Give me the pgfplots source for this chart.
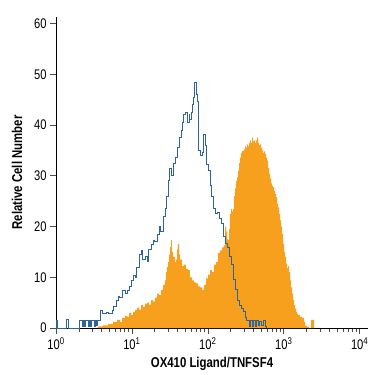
\documentclass[border=0pt]{standalone}
\usepackage{pgfplots}
\pgfplotsset{compat=1.18}
\usepackage{fontspec}
\setmainfont{Liberation Sans}[FakeStretch=0.8]
\definecolor{historange}{RGB}{247,160,30}
\definecolor{histblue}{RGB}{45,100,155}
\begin{document}
\begin{tikzpicture}
\begin{axis}[name=ax, scale only axis, width=312bp, height=311bp,
  xmin=0, xmax=4.11, ymin=0, ymax=61.3,
  axis lines=left, axis line style={-, line width=0.8bp, black},
  xtick={0,1,2,3,4},
  xticklabels={10\textsuperscript{0},10\textsuperscript{1},10\textsuperscript{2},10\textsuperscript{3},10\textsuperscript{4}},
  minor xtick={0.301,0.477,0.602,0.699,0.778,0.845,0.903,0.954,
    1.301,1.477,1.602,1.699,1.778,1.845,1.903,1.954,
    2.301,2.477,2.602,2.699,2.778,2.845,2.903,2.954,
    3.301,3.477,3.602,3.699,3.778,3.845,3.903,3.954},
  ytick={0,10,20,30,40,50,60}, yticklabels={0,10,20,30,40,50,60},
  tick align=outside, major tick length=6bp, minor tick length=4bp,
  tick style={black!70, line width=0.6bp},
  ticklabel style={font=\fontsize{14}{16}\selectfont},
  xlabel={OX410 Ligand/TNFSF4}, ylabel={Relative Cell Number},
  label style={font=\fontsize{14.3}{16}\selectfont\bfseries},
  xlabel style={yshift=-1bp}, ylabel style={yshift=5bp},
  clip=false]
\addplot[const plot, fill=historange, draw=none] coordinates {
(0.553,0) (0.553,0.3) (0.619,0.5) (0.685,0.8) (0.751,1.2) (0.804,1.6) (0.843,1.2) (0.870,2.0) (0.909,2.4) (0.936,2.2) (0.962,3.0) (0.988,2.6) (1.015,3.2) (1.041,3.5) (1.067,4.0) (1.094,3.6) (1.120,4.5) (1.146,4.2) (1.173,4.8) (1.199,5.0) (1.225,4.6) (1.252,5.5) (1.278,5.2) (1.304,6.0) (1.331,6.8) (1.357,6.5) (1.383,7.5) (1.410,8.5) (1.436,9.4) (1.449,11.0) (1.462,12.0) (1.476,13.0) (1.489,14.5) (1.502,16.0) (1.515,17.3) (1.528,15.0) (1.542,14.0) (1.568,13.0) (1.581,13.5) (1.594,15.5) (1.607,16.6) (1.621,14.5) (1.634,13.5) (1.660,12.2) (1.686,12.5) (1.713,11.6) (1.739,11.4) (1.765,10.0) (1.792,9.4) (1.818,9.0) (1.845,8.8) (1.871,8.2) (1.897,8.0) (1.924,7.5) (1.950,8.5) (1.976,9.8) (2.003,10.5) (2.029,11.4) (2.055,11.0) (2.082,12.5) (2.108,13.0) (2.134,14.8) (2.161,15.3) (2.187,15.9) (2.213,16.3) (2.227,20.0) (2.240,19.0) (2.253,17.5) (2.266,17.3) (2.279,19.5) (2.292,22.5) (2.306,23.5) (2.319,23.0) (2.332,23.5) (2.345,26.0) (2.358,27.5) (2.372,29.0) (2.385,29.7) (2.398,31.0) (2.411,32.5) (2.424,33.6) (2.437,34.5) (2.451,34.9) (2.477,35.2) (2.490,35.8) (2.503,35.5) (2.516,36.2) (2.530,35.8) (2.543,36.5) (2.556,37.0) (2.569,36.5) (2.582,37.5) (2.596,36.8) (2.609,37.0) (2.622,36.5) (2.635,37.0) (2.648,37.5) (2.661,36.5) (2.675,36.0) (2.688,36.2) (2.701,35.5) (2.714,35.0) (2.727,34.5) (2.740,34.8) (2.754,34.3) (2.767,33.6) (2.780,33.0) (2.793,31.5) (2.806,30.4) (2.820,29.5) (2.833,28.5) (2.846,28.0) (2.859,27.7) (2.872,27.0) (2.885,26.4) (2.899,25.8) (2.912,24.5) (2.925,23.8) (2.938,22.5) (2.951,21.2) (2.964,20.0) (2.978,18.5) (2.991,16.6) (3.004,15.0) (3.017,14.0) (3.030,12.7) (3.043,11.8) (3.057,12.2) (3.070,11.0) (3.083,9.4) (3.096,8.0) (3.109,6.8) (3.122,5.5) (3.136,4.5) (3.149,3.8) (3.162,3.2) (3.175,2.8) (3.188,2.6) (3.215,2.2) (3.241,2.0) (3.267,1.2) (3.281,0.4) (3.307,0.2) (3.333,0) (3.360,1.6) (3.386,1.6) (3.399,0)
} \closedcycle;
\addplot[const plot, draw=histblue, line width=1bp] coordinates {
(0,0) (0.001,1.5) (0.026,0) (0.132,1.6) (0.171,0) (0.316,1.4) (0.343,0.3) (0.356,1.4) (0.382,0.3) (0.395,1.4) (0.422,0.3) (0.435,1.4) (0.461,0.3) (0.474,1.4) (0.501,0.3) (0.514,1.4) (0.540,0.5) (0.553,1.4) (0.580,3.5) (0.619,2.8) (0.659,3.0) (0.698,2.8) (0.738,3.5) (0.764,4.2) (0.791,5.5) (0.817,6.2) (0.843,6.0) (0.870,7.4) (0.909,6.8) (0.936,7.4) (0.962,8.2) (0.988,9.4) (1.015,10.3) (1.041,10.0) (1.067,12.0) (1.094,14.5) (1.120,15.3) (1.146,13.5) (1.173,14.0) (1.199,13.2) (1.225,15.5) (1.252,16.5) (1.278,17.3) (1.304,17.0) (1.331,18.5) (1.357,20.0) (1.383,19.0) (1.410,22.0) (1.436,23.5) (1.462,26.0) (1.476,29.0) (1.489,31.5) (1.515,30.0) (1.542,32.5) (1.568,33.6) (1.594,35.5) (1.621,37.5) (1.647,39.0) (1.660,40.5) (1.686,42.0) (1.700,42.5) (1.726,40.5) (1.752,42.0) (1.765,41.0) (1.779,42.5) (1.792,44.0) (1.805,45.5) (1.818,48.3) (1.845,46.0) (1.858,44.7) (1.871,35.0) (1.897,34.0) (1.924,34.5) (1.937,38.2) (1.963,36.0) (1.976,32.3) (2.003,31.0) (2.029,28.0) (2.042,26.0) (2.069,23.5) (2.095,22.5) (2.121,22.8) (2.148,21.5) (2.174,20.6) (2.200,18.0) (2.227,16.6) (2.253,15.9) (2.279,14.0) (2.306,12.5) (2.332,9.5) (2.358,7.5) (2.385,5.5) (2.411,4.5) (2.437,3.8) (2.464,3.2) (2.490,2.0) (2.516,1.5) (2.543,0.3) (2.556,1.5) (2.582,0.3) (2.596,1.5) (2.622,0.3) (2.635,1.5) (2.661,0.5) (2.675,1.2) (2.701,0.5) (2.727,1.5) (2.754,0.3) (2.767,0)
};
\end{axis}
\path ([xshift=-56bp,yshift=-47bp]ax.south west) rectangle ([xshift=7bp,yshift=17bp]ax.north east);
\end{tikzpicture}
\end{document}
